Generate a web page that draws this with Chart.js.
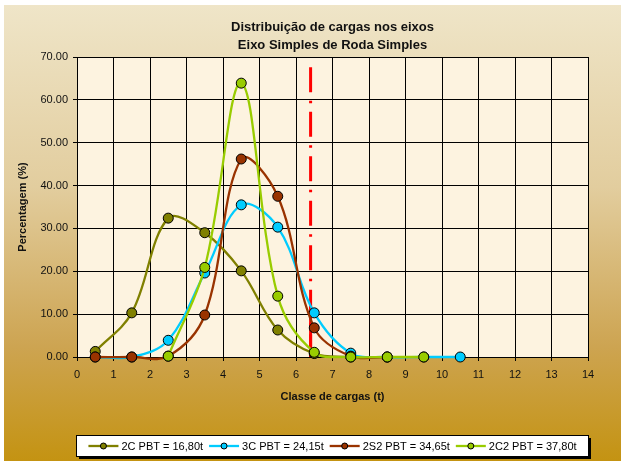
<!DOCTYPE html>
<html>
<head>
<meta charset="utf-8">
<script src="https://cdn.jsdelivr.net/npm/chart.js@4/dist/chart.umd.min.js"></script>
<style>
  html, body { margin: 0; padding: 0; background: #ffffff; }
  #wrap { width: 621px; height: 461px; position: relative; }
  canvas { display: block; }
</style>
</head>
<body>
<div id="wrap"><canvas id="chart" width="621" height="461"></canvas></div>
<script>
// Load classes (t), class centres on the x axis
const classes = [0.5, 1.5, 2.5, 3.5, 4.5, 5.5, 6.5, 7.5, 8.5, 9.5, 10.5];

// Share of axles per load class (%)
const serie2C   = [1.3, 10.3, 32.4, 29.0, 20.1, 6.3, 0.8, 0.0, null, null, null];
const serie3C   = [0.0, 0.0, 3.9, 19.6, 35.5, 30.3, 10.3, 0.9, 0.0, 0.0, 0.0];
const serie2S2  = [0.0, 0.0, 0.2, 9.8, 46.2, 37.5, 6.8, 0.2, 0.0, null, null];
const serie2C2  = [null, null, 0.2, 20.9, 63.9, 14.2, 1.1, 0.0, 0.0, 0.0, null];

const seriesNames = ['2C PBT = 16,80t', '3C PBT = 24,15t', '2S2 PBT = 34,65t', '2C2 PBT = 37,80t'];
const seriesColors = ['#808000', '#00CCFF', '#993300', '#99CC00'];

// Legal load limit marker
const limitX = 6.4;
const limitTop = 67.6;
const limitSolidTop = 12;

// Axis ticks
const xTicks = { min: 0, max: 14, step: 1 };
const yTicks = { min: 0, max: 70, step: 10 };

const titleLines = ['Distribuição de cargas nos eixos', 'Eixo Simples de Roda Simples'];
const xTitle = 'Classe de cargas (t)';
const yTitle = 'Percentagem (%)';

const FONT = "'Liberation Sans', Arial, sans-serif";

function toPoints(values) {
  return classes.map((c, i) => ({ x: c, y: values[i] }));
}

const allSeries = [serie2C, serie3C, serie2S2, serie2C2];

// later series are drawn over earlier ones
const datasets = allSeries.map((vals, i) => ({
  label: seriesNames[i],
  data: toPoints(vals),
  borderColor: seriesColors[i],
  backgroundColor: seriesColors[i],
  pointBackgroundColor: seriesColors[i],
  pointBorderColor: '#000000',
  pointBorderWidth: 1,
  pointRadius: 5,
  borderWidth: 2.3,
  tension: 0.36,
  spanGaps: false,
  clip: false,
  order: 10 - i
}));

// dash-dot limit line, drawn top-down, underneath the series
datasets.push({
  label: 'limite',
  data: [{ x: limitX, y: limitTop }, { x: limitX, y: 0 }],
  borderColor: '#FF0000',
  borderWidth: 3,
  borderDash: [25, 8.5, 2.5, 8.5],
  pointRadius: 0,
  tension: 0,
  order: 30
});
datasets.push({
  label: 'limite-base',
  data: [{ x: limitX, y: limitSolidTop }, { x: limitX, y: 0 }],
  borderColor: '#FF0000',
  borderWidth: 3,
  pointRadius: 0,
  tension: 0,
  order: 30
});

const backdrop = {
  id: 'backdrop',
  beforeDraw(chart) {
    const { ctx, width, height, chartArea: a } = chart;
    ctx.save();
    ctx.fillStyle = '#ffffff';
    ctx.fillRect(0, 0, width, height);
    const g = ctx.createLinearGradient(0, 5, 0, height);
    g.addColorStop(0, '#EFE5C8');
    g.addColorStop(0.4, '#E2CD9E');
    g.addColorStop(0.75, '#CDA451');
    g.addColorStop(1, '#C49312');
    ctx.fillStyle = g;
    ctx.fillRect(4, 5, width - 4, height - 5);
    ctx.fillStyle = '#FDF3E0';
    ctx.fillRect(a.left, a.top, a.right - a.left, a.bottom - a.top);
    ctx.restore();
  }
};

const headline = {
  id: 'headline',
  afterDraw(chart) {
    const { ctx, chartArea: a } = chart;
    const cx = (a.left + a.right) / 2;
    ctx.save();
    ctx.fillStyle = '#111111';
    ctx.font = 'bold 13px ' + FONT;
    ctx.textAlign = 'center';
    ctx.textBaseline = 'middle';
    titleLines.forEach((t, i) => ctx.fillText(t, cx, 27 + i * 18));
    ctx.restore();
  }
};

const keyBox = {
  id: 'keyBox',
  afterDraw(chart) {
    const { ctx, chartArea: a } = chart;
    const bx = Math.round(a.left) - 0.5, by = 435.5, bw = Math.round(a.right - a.left) + 1, bh = 21;
    ctx.save();
    ctx.fillStyle = '#000000';
    ctx.fillRect(bx + 2.5, by + 2.5, bw, bh);
    ctx.fillStyle = '#ffffff';
    ctx.fillRect(bx, by, bw, bh);
    ctx.strokeStyle = '#000000';
    ctx.lineWidth = 1;
    ctx.strokeRect(bx, by, bw, bh);

    ctx.font = '11px ' + FONT;
    ctx.textBaseline = 'middle';
    ctx.textAlign = 'left';
    const lineW = 30, gapText = 3, gapItem = 6;
    const items = seriesNames.map((n, i) => ({ n, c: seriesColors[i], w: ctx.measureText(n).width }));
    const total = items.reduce((s, it) => s + lineW + gapText + it.w, 0) + gapItem * (items.length - 1);
    let x = bx + (bw - total) / 2;
    const cy = by + bh / 2;
    items.forEach(it => {
      ctx.strokeStyle = it.c;
      ctx.lineWidth = 2.3;
      ctx.beginPath();
      ctx.moveTo(x, cy);
      ctx.lineTo(x + lineW, cy);
      ctx.stroke();
      ctx.beginPath();
      ctx.arc(x + lineW / 2, cy, 3, 0, Math.PI * 2);
      ctx.fillStyle = it.c;
      ctx.fill();
      ctx.lineWidth = 1;
      ctx.strokeStyle = '#000000';
      ctx.stroke();
      ctx.fillStyle = '#000000';
      ctx.fillText(it.n, x + lineW + gapText, cy + 0.5);
      x += lineW + gapText + it.w + gapItem;
    });
    ctx.restore();
  }
};

new Chart(document.getElementById('chart'), {
  type: 'line',
  data: { datasets },
  plugins: [backdrop, headline, keyBox],
  options: {
    responsive: false,
    devicePixelRatio: 1,
    animation: false,
    layout: { padding: { left: 4, right: 33, top: 57, bottom: 54 } },
    elements: { line: { capBezierPoints: false } },
    plugins: {
      legend: { display: false },
      title: { display: false },
      tooltip: { enabled: false }
    },
    scales: {
      x: {
        type: 'linear',
        min: xTicks.min,
        max: xTicks.max,
        afterFit: s => { s.height = 50; },
        ticks: {
          stepSize: xTicks.step,
          padding: 7,
          color: '#111111',
          font: { family: FONT, size: 11 },
          maxRotation: 0
        },
        grid: { color: '#000000', lineWidth: 1, tickLength: 4, drawTicks: true },
        border: { color: '#000000', width: 1 },
        title: {
          display: true,
          text: xTitle,
          color: '#111111',
          font: { family: FONT, size: 11, weight: 'bold' },
          padding: { top: 0, bottom: 3 }
        }
      },
      y: {
        type: 'linear',
        min: yTicks.min,
        max: yTicks.max,
        afterFit: s => { s.width = 73; },
        ticks: {
          stepSize: yTicks.step,
          padding: 5,
          color: '#111111',
          font: { family: FONT, size: 11 },
          callback: v => Number(v).toFixed(2)
        },
        grid: { color: '#000000', lineWidth: 1, tickLength: 4, drawTicks: true },
        border: { color: '#000000', width: 1 },
        title: {
          display: true,
          text: yTitle,
          color: '#111111',
          font: { family: FONT, size: 11, weight: 'bold' },
          padding: { top: 12, bottom: 0 }
        }
      }
    }
  }
});
</script>
</body>
</html>
